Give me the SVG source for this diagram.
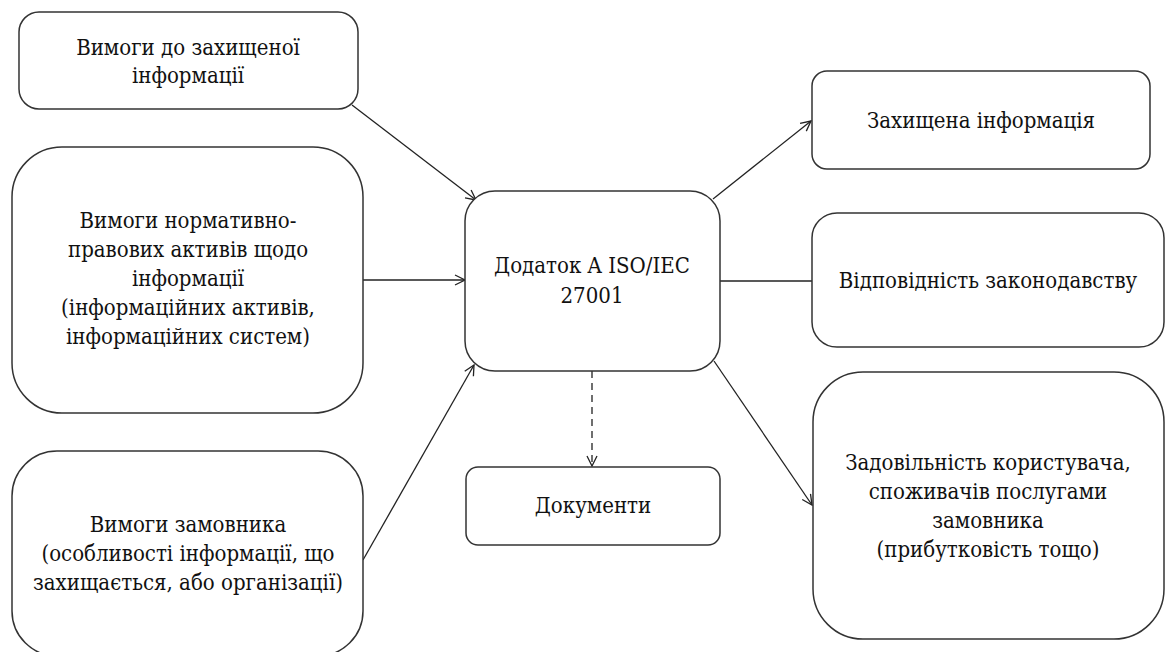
<svg xmlns="http://www.w3.org/2000/svg" width="1165" height="652" viewBox="0 0 1165 652">
  <style>
    .box { fill: #ffffff; stroke: #333333; stroke-width: 1.5; }
    .lbl { font-family: "DejaVu Serif Condensed", "DejaVu Serif", serif; font-stretch: condensed; font-size: 22px; fill: #111111; text-anchor: middle; }
    .edge { fill: none; stroke: #222222; stroke-width: 1.3; }
    .dash { stroke-dasharray: 7 5; }
  </style>
  <defs>
    <marker id="arrow" viewBox="0 0 12 12" refX="11" refY="6" markerWidth="12" markerHeight="12" markerUnits="userSpaceOnUse" orient="auto">
      <path d="M1,1 L11,6 L1,11" fill="none" stroke="#222222" stroke-width="1.3"/>
    </marker>
  </defs>
  <rect width="1165" height="652" fill="#ffffff"/>

  <g id="connectors">
    <line class="edge" x1="352" y1="105" x2="476" y2="200" marker-end="url(#arrow)"/>
    <line class="edge" x1="363" y1="280" x2="465" y2="280" marker-end="url(#arrow)"/>
    <line class="edge" x1="363" y1="560" x2="474" y2="365" marker-end="url(#arrow)"/>
    <line class="edge" x1="713" y1="199" x2="811" y2="121" marker-end="url(#arrow)"/>
    <line class="edge" x1="720" y1="281" x2="812" y2="281"/>
    <line class="edge" x1="714" y1="361" x2="812" y2="505" marker-end="url(#arrow)"/>
    <line class="edge dash" x1="592" y1="371" x2="592" y2="466" marker-end="url(#arrow)"/>
  </g>

  <g id="req-protected">
    <rect class="box" x="19" y="12" width="339" height="97" rx="20"/>
    <text class="lbl" x="188" y="55">Вимоги до захищеної</text>
    <text class="lbl" x="188" y="83">інформації</text>
  </g>

  <g id="req-legal">
    <rect class="box" x="12" y="147" width="351" height="266" rx="50"/>
    <text class="lbl" x="188" y="228">Вимоги нормативно-</text>
    <text class="lbl" x="188" y="257">правових активів щодо</text>
    <text class="lbl" x="188" y="286">інформації</text>
    <text class="lbl" x="188" y="315">(інформаційних активів,</text>
    <text class="lbl" x="188" y="344">інформаційних систем)</text>
  </g>

  <g id="req-customer">
    <rect class="box" x="12" y="451" width="351" height="205" rx="45"/>
    <text class="lbl" x="188" y="532">Вимоги замовника</text>
    <text class="lbl" x="188" y="561">(особливості інформації, що</text>
    <text class="lbl" x="188" y="590">захищається, або організації)</text>
  </g>

  <g id="annex-a">
    <rect class="box" x="465" y="191" width="255" height="180" rx="30"/>
    <text class="lbl" x="592" y="273">Додаток A ISO/IEC</text>
    <text class="lbl" x="592" y="303">27001</text>
  </g>

  <g id="documents">
    <rect class="box" x="466" y="467" width="254" height="78" rx="12"/>
    <text class="lbl" x="593" y="513">Документи</text>
  </g>

  <g id="protected-info">
    <rect class="box" x="812" y="71" width="338" height="98" rx="15"/>
    <text class="lbl" x="981" y="128">Захищена інформація</text>
  </g>

  <g id="compliance">
    <rect class="box" x="812" y="213" width="352" height="134" rx="25"/>
    <text class="lbl" x="988" y="288">Відповідність законодавству</text>
  </g>

  <g id="satisfaction">
    <rect class="box" x="813" y="372" width="351" height="267" rx="50"/>
    <text class="lbl" x="988" y="470">Задовільність користувача,</text>
    <text class="lbl" x="988" y="499">споживачів послугами</text>
    <text class="lbl" x="988" y="528">замовника</text>
    <text class="lbl" x="988" y="557">(прибутковість тощо)</text>
  </g>
</svg>
